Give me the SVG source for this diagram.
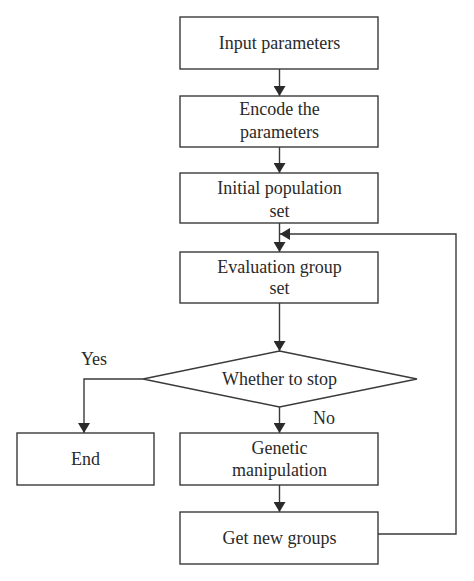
<svg xmlns="http://www.w3.org/2000/svg" width="474" height="581" viewBox="0 0 474 581">
<style>
.box{fill:#fff;stroke:#3a3a3a;stroke-width:1.4}
.ln{fill:none;stroke:#3a3a3a;stroke-width:1.4}
text{font-family:"Liberation Serif","Times New Roman",serif;font-size:18px;fill:#2a2a2a;text-anchor:middle}
</style>
<defs>
<marker id="ah" markerWidth="10" markerHeight="12" refX="10" refY="6" orient="auto" markerUnits="userSpaceOnUse" viewBox="0 0 10 12">
<path d="M0,0 L10,6 L0,12 Z" fill="#2a2a2a"/>
</marker>
</defs>
<rect width="474" height="581" fill="#fff"/>
<g id="connectors">
<line class="ln" x1="279.5" y1="69" x2="279.5" y2="96" marker-end="url(#ah)"/>
<line class="ln" x1="279.5" y1="147" x2="279.5" y2="173" marker-end="url(#ah)"/>
<line class="ln" x1="279.5" y1="223" x2="279.5" y2="252" marker-end="url(#ah)"/>
<line class="ln" x1="279.5" y1="303" x2="279.5" y2="351" marker-end="url(#ah)"/>
<polyline class="ln" points="143,379 84,379 84,433" marker-end="url(#ah)"/>
<line class="ln" x1="279.5" y1="407" x2="279.5" y2="433" marker-end="url(#ah)"/>
<line class="ln" x1="279.5" y1="485" x2="279.5" y2="512" marker-end="url(#ah)"/>
<polyline class="ln" points="378,534 456,534 456,234 280,234" marker-end="url(#ah)"/>
<text x="94" y="365">Yes</text>
<text x="324" y="424">No</text>
</g>
<g id="input">
<rect class="box" x="180" y="17" width="198" height="52"/>
<text x="279.5" y="49">Input parameters</text>
</g>
<g id="encode">
<rect class="box" x="180" y="96" width="198" height="51"/>
<text x="279.5" y="115">Encode the</text>
<text x="279.5" y="138">parameters</text>
</g>
<g id="initial">
<rect class="box" x="180" y="173" width="198" height="50"/>
<text x="279.5" y="194">Initial population</text>
<text x="279.5" y="217">set</text>
</g>
<g id="evaluation">
<rect class="box" x="180" y="252" width="198" height="51"/>
<text x="279.5" y="273">Evaluation group</text>
<text x="279.5" y="294">set</text>
</g>
<g id="decision">
<polygon class="box" points="279.5,351 417,379 279.5,407 143,379"/>
<text x="279.5" y="385">Whether to stop</text>
</g>
<g id="end">
<rect class="box" x="17" y="433" width="137" height="52"/>
<text x="85.5" y="465">End</text>
</g>
<g id="genetic">
<rect class="box" x="180" y="433" width="198" height="52"/>
<text x="279.5" y="454">Genetic</text>
<text x="279.5" y="476">manipulation</text>
</g>
<g id="newgroups">
<rect class="box" x="180" y="512" width="198" height="52"/>
<text x="279.5" y="544">Get new groups</text>
</g>
</svg>
